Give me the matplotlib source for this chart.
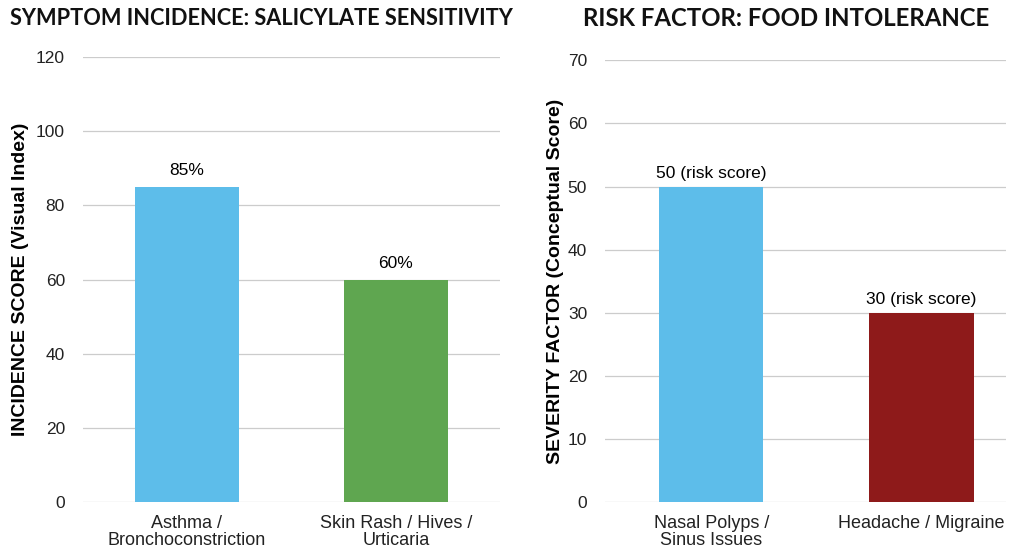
import matplotlib.pyplot as plt

# left panel: salicylate sensitivity
symptoms = ['Asthma /\nBronchoconstriction', 'Skin Rash / Hives /\nUrticaria']
incidence = [85, 60]
incidence_labels = ['85%', '60%']
incidence_colors = ['#5dbdea', '#5fa650']

# right panel: food intolerance
risks = ['Nasal Polyps /\nSinus Issues', 'Headache / Migraine']
severity = [50, 30]
severity_labels = ['50 (risk score)', '30 (risk score)']
severity_colors = ['#5dbdea', '#8e1a1a']

plt.rcParams['font.family'] = ['Liberation Sans', 'DejaVu Sans']

fig = plt.figure(figsize=(10.24, 5.53), dpi=100)
ax1 = fig.add_axes([0.081, 0.092, 0.407, 0.805])
ax2 = fig.add_axes([0.591, 0.092, 0.391, 0.799])


def style(ax, ticks, lim):
    ax.set_ylim(0, lim)
    ax.set_yticks(ticks)
    ax.grid(axis='y', color='#cccccc', linewidth=0.9)
    ax.set_axisbelow(True)
    for s in ax.spines.values():
        s.set_visible(False)
    ax.tick_params(axis='both', length=0, labelsize=12.5, colors='#222222')
    ax.tick_params(axis='y', pad=13)
    ax.tick_params(axis='x', pad=9)


x = range(len(symptoms))
ax1.bar(x, incidence, width=0.5, color=incidence_colors)
ax1.set_xlim(-0.497, 1.497)
style(ax1, range(0, 121, 20), 120)
ax1.set_xticks(list(x))
ax1.set_xticklabels(symptoms, fontsize=13, linespacing=1.0)
ax1.set_ylabel('INCIDENCE SCORE (Visual Index)', fontsize=14, fontweight='bold', labelpad=5)
for i, v in enumerate(incidence):
    ax1.annotate(incidence_labels[i], (i, v), xytext=(0, 6), textcoords='offset points',
                 ha='center', va='bottom', fontsize=12.5)

x = range(len(risks))
ax2.bar(x, severity, width=0.495, color=severity_colors)
ax2.set_xlim(-0.505, 1.4)
style(ax2, range(0, 71, 10), 70)
ax2.set_xticks(list(x))
ax2.set_xticklabels(risks, fontsize=13, linespacing=1.0)
ax2.set_ylabel('SEVERITY FACTOR (Conceptual Score)', fontsize=14, fontweight='bold', labelpad=3)
for i, v in enumerate(severity):
    ax2.annotate(severity_labels[i], (i, v), xytext=(0, 4), textcoords='offset points',
                 ha='center', va='bottom', fontsize=12.5)

fig.text(0.01, 0.967, 'SYMPTOM INCIDENCE: SALICYLATE SENSITIVITY', fontsize=15.7,
         fontweight='bold', family='Lato', va='center', ha='left', color='#111111')
fig.text(0.569, 0.967, 'RISK FACTOR: FOOD INTOLERANCE', fontsize=17.3,
         fontweight='bold', family='Lato', va='center', ha='left', color='#111111')

fig.savefig('out.png', dpi=100, facecolor='white')
